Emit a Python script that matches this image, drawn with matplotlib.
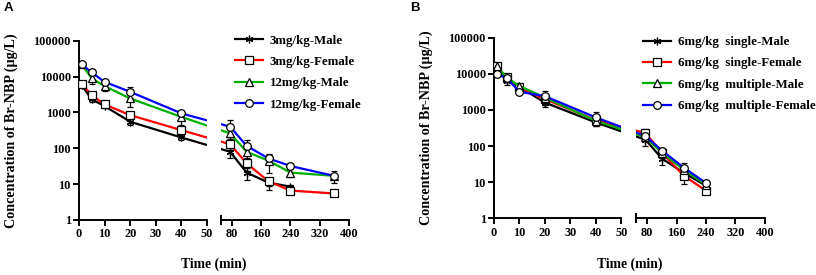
import numpy as np
import matplotlib
matplotlib.use("Agg")
import matplotlib.pyplot as plt
from matplotlib.ticker import FixedLocator, NullFormatter, NullLocator

# ---------------- data ----------------
t_early = [1, 5, 10, 20, 40]
t_late_full = [75, 120, 180, 240, 360]
t_late_short = [75, 120, 180, 240]

labels_A = ["3mg/kg-Male", "3mg/kg-Female", "12mg/kg-Male", "12mg/kg-Female"]
A_male3_early = [5750, 2300, 1500, 550, 200]
A_male3_late = [80, 21, 11, 8.5]
A_fem3_early = [6400, 3000, 1670, 840, 320]
A_fem3_late = [130, 38, 12, 6.6, 5.5]
A_male12_early = [22000, 8900, 5400, 2450, 750]
A_male12_late = [260, 80, 45, 21, 17]
A_fem12_early = [22000, 13000, 7100, 3750, 940]
A_fem12_late = [400, 117, 52, 32, 17]

A_male3_sd_early = [500, 300, 200, 100, 30]
A_male3_sd_late = [25, 8, 4, 1]
A_fem3_sd_early = [700, 300, 150, 200, 60]
A_fem3_sd_late = [40, 15, 3, 0.5, 0.5]
A_male12_sd_early = [4000, 2500, 1500, 1000, 300]
A_male12_sd_late = [80, 30, 25, 5, 6]
A_fem12_sd_early = [3000, 1500, 1000, 1250, 150]
A_fem12_sd_late = [200, 50, 15, 4, 2]

labels_B = ["6mg/kg  single-Male", "6mg/kg  single-Female",
            "6mg/kg  multiple-Male", "6mg/kg  multiple-Female"]
B_sm_early = [15000, 6500, 4300, 1600, 450]
B_sm_late = [150, 45, 18, 8]
B_sf_early = [16000, 8000, 4200, 2000, 520]
B_sf_late = [230, 65, 15, 5.8]
B_mm_early = [16500, 7800, 4600, 2200, 500]
B_mm_late = [175, 65, 22, 8.5]
B_mf_early = [10000, 7500, 3200, 2400, 620]
B_mf_late = [190, 75, 25, 9.5]

B_sm_sd_early = [3000, 1500, 800, 400, 80]
B_sm_sd_late = [50, 15, 5, 1]
B_sf_sd_early = [2500, 1500, 600, 500, 100]
B_sf_sd_late = [60, 15, 6, 1]
B_mm_sd_early = [2500, 1200, 700, 600, 100]
B_mm_sd_late = [40, 15, 5, 1]
B_mf_sd_early = [1500, 1200, 500, 1000, 250]
B_mf_sd_late = [50, 15, 8, 1.5]

colors = ["#000000", "#ff0000", "#00b000", "#0000ff"]
markers = [(6, 2, 0), "s", "^", "o"]

x_ticks_left = [0, 10, 20, 30, 40, 50]
x_ticks_right = [80, 160, 240, 320, 400]
y_ticks = [1, 10, 100, 1000, 10000, 100000]
y_ticklabels = ["1", "10", "100", "1000", "10000", "100000"]

SERIF = "Liberation Serif"

fig = plt.figure(figsize=(8.16, 2.75), dpi=100)


def style_axes(axL, axR):
    for ax in (axL, axR):
        ax.set_yscale("log")
        ax.set_ylim(1, 100000)
        ax.spines["top"].set_visible(False)
        ax.spines["right"].set_visible(False)
        for s in ("left", "bottom"):
            ax.spines[s].set_linewidth(1.4)
        ax.tick_params(axis="both", which="major", direction="out", length=4,
                       width=1.4, labelsize=8.8, pad=2)
    axL.set_xlim(0, 50)
    axR.set_xlim(50, 400)
    axL.xaxis.set_major_locator(FixedLocator(x_ticks_left))
    axR.xaxis.set_major_locator(FixedLocator(x_ticks_right))
    axR.xaxis.set_minor_locator(FixedLocator([50]))
    axR.xaxis.set_minor_formatter(NullFormatter())
    axR.tick_params(axis="x", which="minor", direction="inout", length=7, width=1.4)
    axL.xaxis.set_minor_locator(NullLocator())
    axL.yaxis.set_major_locator(FixedLocator(y_ticks))
    axL.set_yticklabels(y_ticklabels)
    axL.yaxis.set_minor_locator(NullLocator())
    axR.spines["left"].set_visible(False)
    axR.yaxis.set_major_locator(NullLocator())
    axR.yaxis.set_minor_locator(NullLocator())
    for ax in (axL, axR):
        for lab in ax.get_xticklabels() + ax.get_yticklabels():
            lab.set_fontfamily(SERIF)
            lab.set_fontweight("bold")
    axL.set_ylabel("Concentration of Br-NBP (μg/L)", fontfamily=SERIF,
                   fontweight="bold", fontsize=10.2, labelpad=11)


def draw_series(axL, axR, early, late, sd_e, sd_l, t_late, color, marker, label):
    ln, = axL.plot(t_early, early, color=color, lw=1.6, marker=marker, ms=5.5,
                   mec="black", mfc="white", mew=0.9, label=label, zorder=3)
    axL.errorbar(t_early, early, yerr=[np.minimum(sd_e, np.array(early) * 0.9), sd_e],
                 fmt="none", ecolor="black", elinewidth=0.9, capsize=2.5,
                 capthick=0.9, zorder=2)
    axR.plot(t_late, late, color=color, lw=1.6, marker=marker, ms=5.5,
             mec="black", mfc="white", mew=0.9, zorder=3)
    axR.errorbar(t_late, late, yerr=[np.minimum(sd_l, np.array(late) * 0.9), sd_l],
                 fmt="none", ecolor="black", elinewidth=0.9, capsize=2.5,
                 capthick=0.9, zorder=2)
    # straight line across the axis break (straight on screen), clipped per segment
    p1 = axL.transData.transform((t_early[-1], early[-1]))
    p2 = axR.transData.transform((t_late[0], late[0]))
    for host in (axL, axR):
        d = host.transData.inverted().transform(np.array([p1, p2]))
        host.plot(d[:, 0], d[:, 1], color=color, lw=1.6, zorder=1,
                  scalex=False, scaley=False)
    return ln


def panel(rect_L, rect_R, series, labels, legend_anchor, letter, letter_xy):
    axL = fig.add_axes(rect_L)
    axR = fig.add_axes(rect_R)
    for ax in (axL, axR):
        ax.set_yscale("log")
        ax.set_ylim(1, 100000)
    axL.set_xlim(0, 50)
    axR.set_xlim(50, 400)
    handles = []
    for i, (e, l, se, sl, tl) in enumerate(series):
        handles.append(draw_series(axL, axR, e, l, se, sl, tl, colors[i],
                                   markers[i], labels[i]))
    style_axes(axL, axR)
    xc = (rect_L[0] + rect_R[0] + rect_R[2]) / 2
    fig.text(xc, 0.015, "Time (min)", ha="center", va="bottom", fontfamily=SERIF,
             fontweight="bold", fontsize=9.8)
    fig.legend(handles=handles, loc="upper left", bbox_to_anchor=legend_anchor,
               frameon=False, handlelength=2.2, handletextpad=0.5,
               labelspacing=0.72, borderpad=0, borderaxespad=0,
               prop={"family": SERIF, "weight": "bold", "size": 9.3})
    fig.text(letter_xy[0], letter_xy[1], letter, fontfamily="Liberation Sans",
             fontweight="bold", fontsize=9.5, ha="left", va="top")


seriesA = [
    (A_male3_early, A_male3_late, A_male3_sd_early, A_male3_sd_late, t_late_short),
    (A_fem3_early, A_fem3_late, A_fem3_sd_early, A_fem3_sd_late, t_late_full),
    (A_male12_early, A_male12_late, A_male12_sd_early, A_male12_sd_late, t_late_full),
    (A_fem12_early, A_fem12_late, A_fem12_sd_early, A_fem12_sd_late, t_late_full),
]
seriesB = [
    (B_sm_early, B_sm_late, B_sm_sd_early, B_sm_sd_late, t_late_short),
    (B_sf_early, B_sf_late, B_sf_sd_early, B_sf_sd_late, t_late_short),
    (B_mm_early, B_mm_late, B_mm_sd_early, B_mm_sd_late, t_late_short),
    (B_mf_early, B_mf_late, B_mf_sd_early, B_mf_sd_late, t_late_short),
]

panel([79 / 816, 55 / 275, 128 / 816, 179.3 / 275],
      [221 / 816, 55 / 275, 128 / 816, 179.3 / 275],
      seriesA, labels_A, (235 / 816, 1 - 34.5 / 275), "A",
      (4 / 816, 1 - 2 / 275))
panel([494 / 816, 56.7 / 275, 127.3 / 816, 180.6 / 275],
      [636.3 / 816, 56.7 / 275, 128.4 / 816, 180.6 / 275],
      seriesB, labels_B, (643 / 816, 1 - 36 / 275), "B",
      (410 / 816, 1 - 2 / 275))

fig.savefig("out.png", dpi=100)
